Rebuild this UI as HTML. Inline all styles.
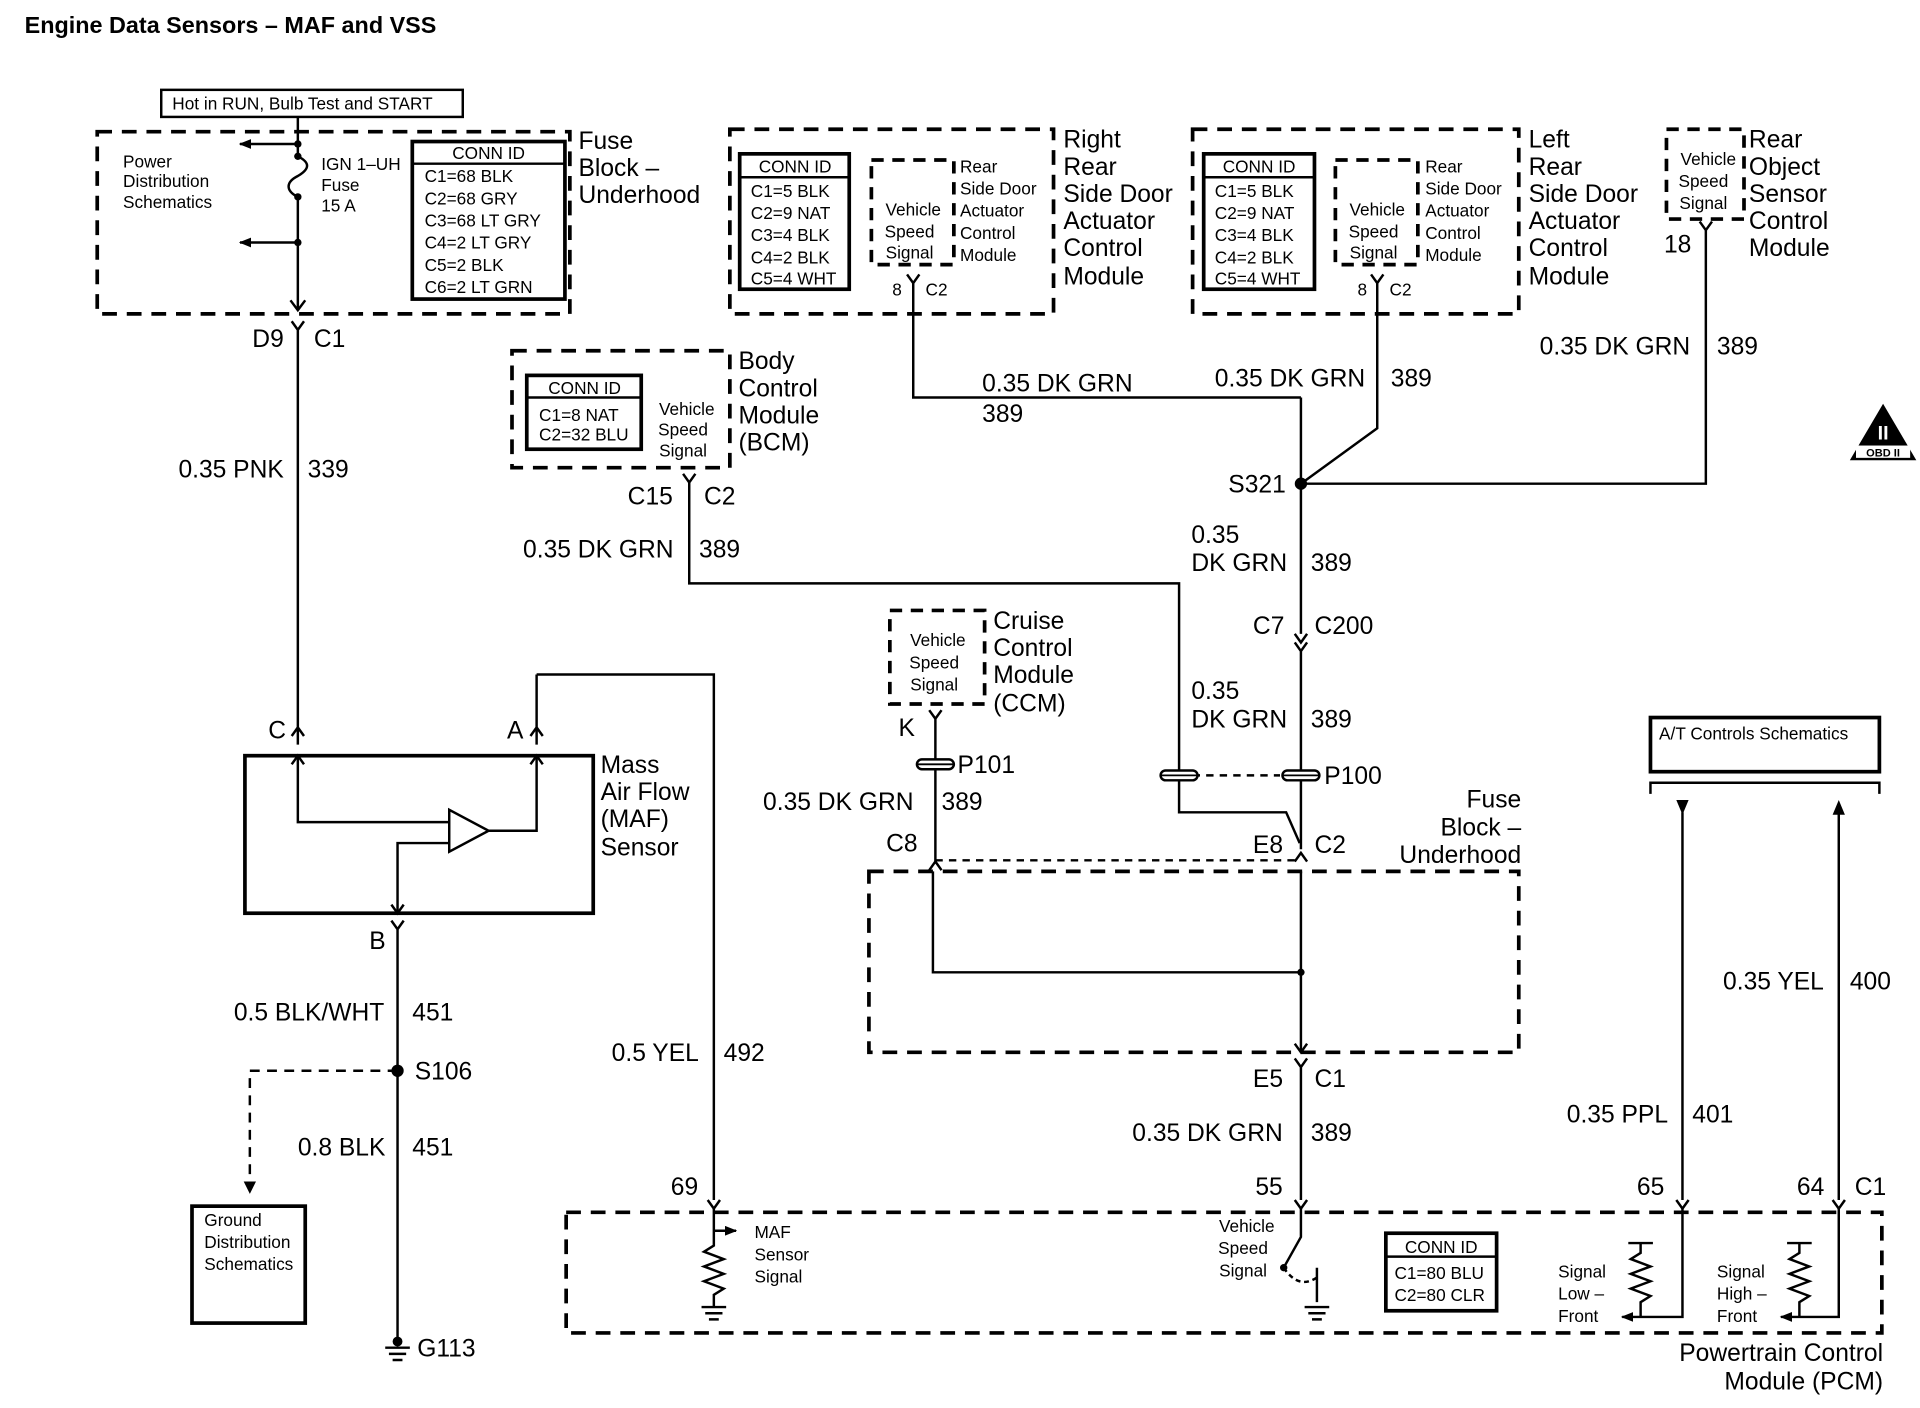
<!DOCTYPE html>
<html><head><meta charset="utf-8"><style>
html,body{margin:0;padding:0;background:#fff}
svg{display:block}
text{font-family:"Liberation Sans",Arial,sans-serif;fill:#000}
.t{font-size:20px}.s{font-size:14px}.m{font-size:15px}
</style></head><body>
<svg width="1920" height="1408" viewBox="0 0 1560 1144" xmlns="http://www.w3.org/2000/svg">
<defs>
<marker id="ah" markerWidth="10" markerHeight="8" refX="9" refY="4" orient="auto" markerUnits="userSpaceOnUse"><path d="M0,0L10,4L0,8z" fill="#000"/></marker>
</defs>
<g fill="none" stroke="#000" stroke-width="2">
<rect x="131" y="73" width="245" height="22"/>
<rect x="79" y="107" width="384" height="148" stroke-dasharray="12,8" stroke-width="3"/>
<path d="M242 95V127M242 160V252"/>
<path d="M242 127c10 5 10 10 0 16c-10 5-10 12 0 17"/>
<path d="M242 117H195" marker-end="url(#ah)"/>
<path d="M242 197H195" marker-end="url(#ah)"/>
<path d="M236 244l6 8 6-8"/>
<rect x="335" y="115" width="124" height="128" stroke-width="3"/>
<path d="M335 133H459"/>
<path d="M237 261l5 7 5-7M242 268V605M237 598l5-7 5 7"/>
<rect x="199" y="614" width="283" height="128" stroke-width="3"/>
<path d="M242 614V668H365M365 658V692L397 675Z M397 675H436V614M436 548V605M431 598l5-7 5 7M436 548H580V975M365 685H323V742"/>
<path d="M237 621l5-7 5 7M431 621l5-7 5 7M318 735l5 7 5-7"/>
<path d="M318 748l5 7 5-7M323 755V1090"/>
<path d="M323 870H203V960" stroke-dasharray="8,6"/>
<rect x="156" y="980" width="92" height="95" stroke-width="3"/>
<path d="M313 1095H333M316 1100H330M319 1105H327"/>
<rect x="416" y="285" width="177" height="95" stroke-dasharray="12,8" stroke-width="3"/>
<rect x="428" y="305" width="93" height="60" stroke-width="3"/>
<path d="M428 323H521"/>
<path d="M555 385l5 7 5-7M560 392V474H958V660H1045L1056 685"/>
<rect x="593" y="105" width="263" height="150" stroke-dasharray="12,8" stroke-width="3"/>
<rect x="601" y="125" width="89" height="110" stroke-width="3"/>
<path d="M601 144H690"/>
<rect x="708" y="130" width="67" height="85" stroke-dasharray="10,7" stroke-width="3"/>
<path d="M737 223l5 7 5-7M742 230V323H1057"/>
<rect x="969" y="105" width="265" height="150" stroke-dasharray="12,8" stroke-width="3"/>
<rect x="978" y="125" width="90" height="110" stroke-width="3"/>
<path d="M978 144H1068"/>
<rect x="1085" y="130" width="67" height="85" stroke-dasharray="10,7" stroke-width="3"/>
<path d="M1114 223l5 7 5-7M1119 230V348L1057 393"/>
<rect x="1354" y="105" width="63" height="73" stroke-dasharray="10,7" stroke-width="3"/>
<path d="M1381 180l5 7 5-7M1386 187V393H1057"/>
<path d="M1057 323V515M1052 515l5 7 5-7M1052 522l5 7 5-7M1057 529V690"/>
<path d="M1052 700l5-7 5 7M1052 848l5 7 5-7M1052 860l5 7 5-7M1057 867V975"/>
<path d="M958 630H1040" stroke-dasharray="6,5"/>
<rect x="723" y="496" width="77" height="76" stroke-dasharray="10,7" stroke-width="3"/>
<path d="M755 577l5 7 5-7M760 584V700M755 707l5-7 5 7"/>
<path d="M760 699H1056" stroke-dasharray="6,5"/>
<rect x="706" y="708" width="528" height="147" stroke-dasharray="12,8" stroke-width="3"/>
<path d="M758 708V790H1057M1057 708V855"/>
<rect x="1341" y="583" width="186" height="44" stroke-width="3"/>
<path d="M1341 645V636H1527V645"/>
<path d="M1367 660V975M1494 660V975"/>
<rect x="460" y="985" width="1069" height="98" stroke-dasharray="12,8" stroke-width="3"/>
<path d="M575 975l5 7 5-7M1052 975l5 7 5-7M1362 975l5 7 5-7M1489 975l5 7 5-7"/>
<path d="M580 982V1012l-8 5 16 6-16 6 16 6-16 6 16 6-8 5V1062"/>
<path d="M580 1000H598" marker-end="url(#ah)"/>
<path d="M570 1062H590M573 1067H587M576 1072H584"/>
<path d="M1057 982V1005L1043 1030"/>
<path d="M1043 1030Q1055 1048 1070 1038" stroke-dasharray="4,3"/>
<path d="M1070 1030V1058M1060 1062H1080M1063 1067H1077M1066 1072H1074"/>
<rect x="1126" y="1002" width="90" height="63" stroke-width="3"/>
<path d="M1126 1021H1216"/>
<path d="M1333 1010V1018l-8 5 16 6-16 6 16 6-16 6 16 6-8 5V1070"/>
<path d="M1323 1010H1343"/>
<path d="M1367 982V1070H1318" marker-end="url(#ah)"/>
<path d="M1462 1010V1018l-8 5 16 6-16 6 16 6-16 6 16 6-8 5V1070"/>
<path d="M1452 1010H1472"/>
<path d="M1494 982V1070H1447" marker-end="url(#ah)"/>
</g>
<g fill="#000">
<circle cx="242" cy="117" r="3"/><circle cx="242" cy="127" r="3"/><circle cx="242" cy="160" r="3"/><circle cx="242" cy="197" r="3"/>
<circle cx="323" cy="870" r="5"/><circle cx="1057" cy="393" r="5"/><circle cx="1057" cy="790" r="3"/>
<circle cx="1043" cy="1030" r="3"/><circle cx="323" cy="1090" r="4"/>
<path d="M1362 650h10l-5 12z M1489 662h10l-5-12z M198 960h10l-5 10z"/>
<path d="M1530 328L1503 374H1557Z"/>
</g>
<g fill="#fff" stroke="#000" stroke-width="2">
<rect x="943" y="626" width="30" height="8" rx="4"/><rect x="1042" y="626" width="30" height="8" rx="4"/>
<rect x="745" y="617" width="30" height="8" rx="4"/>
</g>
<g stroke="#000" stroke-width="1.5"><path d="M943 630H973M1042 630H1072M745 621H775"/></g>
<rect x="1508" y="362" width="44" height="10" fill="#fff"/>
<text x="1530" y="371" font-size="9" text-anchor="middle" font-weight="bold">OBD II</text>
<text x="1530" y="357" font-size="16" text-anchor="middle" font-weight="bold" style="fill:#fff">II</text>

<text x="20" y="27" font-size="19" font-weight="bold">Engine Data Sensors – MAF and VSS</text>
<text x="140" y="89" class="s">Hot in RUN, Bulb Test and START</text>
<g class="s">
<text x="100" y="136">Power</text><text x="100" y="152">Distribution</text><text x="100" y="169">Schematics</text>
<text x="261" y="138">IGN 1–UH</text><text x="261" y="155">Fuse</text><text x="261" y="172">15 A</text>
<text x="397" y="129" text-anchor="middle">CONN ID</text>
<text x="345" y="148">C1=68 BLK</text><text x="345" y="166">C2=68 GRY</text><text x="345" y="184">C3=68 LT GRY</text>
<text x="345" y="202">C4=2 LT GRY</text><text x="345" y="220">C5=2 BLK</text><text x="345" y="238">C6=2 LT GRN</text>
<text x="166" y="996">Ground</text><text x="166" y="1014">Distribution</text><text x="166" y="1032">Schematics</text>
<text x="475" y="320" text-anchor="middle">CONN ID</text>
<text x="438" y="342">C1=8 NAT</text><text x="438" y="358">C2=32 BLU</text>
<text x="558" y="337" text-anchor="middle">Vehicle</text><text x="555" y="354" text-anchor="middle">Speed</text><text x="555" y="371" text-anchor="middle">Signal</text>
<text x="646" y="140" text-anchor="middle">CONN ID</text>
<text x="610" y="160">C1=5 BLK</text><text x="610" y="178">C2=9 NAT</text><text x="610" y="196">C3=4 BLK</text><text x="610" y="214">C4=2 BLK</text><text x="610" y="231">C5=4 WHT</text>
<text x="742" y="175" text-anchor="middle">Vehicle</text><text x="739" y="193" text-anchor="middle">Speed</text><text x="739" y="210" text-anchor="middle">Signal</text>
<text x="780" y="140">Rear</text><text x="780" y="158">Side Door</text><text x="780" y="176">Actuator</text><text x="780" y="194">Control</text><text x="780" y="212">Module</text>
<text x="725" y="240">8</text><text x="752" y="240">C2</text>
<text x="1023" y="140" text-anchor="middle">CONN ID</text>
<text x="987" y="160">C1=5 BLK</text><text x="987" y="178">C2=9 NAT</text><text x="987" y="196">C3=4 BLK</text><text x="987" y="214">C4=2 BLK</text><text x="987" y="231">C5=4 WHT</text>
<text x="1119" y="175" text-anchor="middle">Vehicle</text><text x="1116" y="193" text-anchor="middle">Speed</text><text x="1116" y="210" text-anchor="middle">Signal</text>
<text x="1158" y="140">Rear</text><text x="1158" y="158">Side Door</text><text x="1158" y="176">Actuator</text><text x="1158" y="194">Control</text><text x="1158" y="212">Module</text>
<text x="1103" y="240">8</text><text x="1129" y="240">C2</text>
<text x="1388" y="134" text-anchor="middle">Vehicle</text><text x="1384" y="152" text-anchor="middle">Speed</text><text x="1384" y="170" text-anchor="middle">Signal</text>
<text x="762" y="525" text-anchor="middle">Vehicle</text><text x="759" y="543" text-anchor="middle">Speed</text><text x="759" y="561" text-anchor="middle">Signal</text>
<text x="1348" y="601">A/T Controls Schematics</text>
<text x="613" y="1006">MAF</text><text x="613" y="1024">Sensor</text><text x="613" y="1042">Signal</text>
<text x="1013" y="1001" text-anchor="middle">Vehicle</text><text x="1010" y="1019" text-anchor="middle">Speed</text><text x="1010" y="1037" text-anchor="middle">Signal</text>
<text x="1171" y="1018" text-anchor="middle">CONN ID</text>
<text x="1133" y="1039">C1=80 BLU</text><text x="1133" y="1057">C2=80 CLR</text>
<text x="1266" y="1038">Signal</text><text x="1266" y="1056">Low –</text><text x="1266" y="1074">Front</text>
<text x="1395" y="1038">Signal</text><text x="1395" y="1056">High –</text><text x="1395" y="1074">Front</text>
</g>
<g class="t">
<text x="470" y="121">Fuse</text><text x="470" y="143">Block –</text><text x="470" y="165">Underhood</text>
<text x="205" y="282">D9</text><text x="255" y="282">C1</text>
<text x="145" y="388">0.35 PNK</text><text x="250" y="388">339</text>
<text x="218" y="600">C</text><text x="412" y="600">A</text>
<text x="488" y="628">Mass</text><text x="488" y="650">Air Flow</text><text x="488" y="672">(MAF)</text><text x="488" y="695">Sensor</text>
<text x="300" y="771">B</text>
<text x="190" y="829">0.5 BLK/WHT</text><text x="335" y="829">451</text>
<text x="337" y="877">S106</text>
<text x="242" y="939">0.8 BLK</text><text x="335" y="939">451</text>
<text x="339" y="1102">G113</text>
<text x="497" y="862">0.5 YEL</text><text x="588" y="862">492</text>
<text x="545" y="971">69</text>
<text x="600" y="300">Body</text><text x="600" y="322">Control</text><text x="600" y="344">Module</text><text x="600" y="366">(BCM)</text>
<text x="510" y="410">C15</text><text x="572" y="410">C2</text>
<text x="425" y="453">0.35 DK GRN</text><text x="568" y="453">389</text>
<text x="864" y="120">Right</text><text x="864" y="142">Rear</text><text x="864" y="164">Side Door</text><text x="864" y="186">Actuator</text><text x="864" y="208">Control</text><text x="864" y="231">Module</text>
<text x="798" y="318">0.35 DK GRN</text><text x="798" y="343">389</text>
<text x="1242" y="120">Left</text><text x="1242" y="142">Rear</text><text x="1242" y="164">Side Door</text><text x="1242" y="186">Actuator</text><text x="1242" y="208">Control</text><text x="1242" y="231">Module</text>
<text x="987" y="314">0.35 DK GRN</text><text x="1130" y="314">389</text>
<text x="1421" y="120">Rear</text><text x="1421" y="142">Object</text><text x="1421" y="164">Sensor</text><text x="1421" y="186">Control</text><text x="1421" y="208">Module</text>
<text x="1352" y="205">18</text>
<text x="1251" y="288">0.35 DK GRN</text><text x="1395" y="288">389</text>
<text x="998" y="400">S321</text>
<text x="968" y="441">0.35</text><text x="968" y="464">DK GRN</text><text x="1065" y="464">389</text>
<text x="1018" y="515">C7</text><text x="1068" y="515">C200</text>
<text x="968" y="568">0.35</text><text x="968" y="591">DK GRN</text><text x="1065" y="591">389</text>
<text x="1076" y="637">P100</text>
<text x="807" y="511">Cruise</text><text x="807" y="533">Control</text><text x="807" y="555">Module</text><text x="807" y="578">(CCM)</text>
<text x="730" y="598">K</text><text x="778" y="628">P101</text>
<text x="620" y="658">0.35 DK GRN</text><text x="765" y="658">389</text>
<text x="720" y="692">C8</text><text x="1018" y="693">E8</text><text x="1068" y="693">C2</text>
<text x="1236" y="656" text-anchor="end">Fuse</text><text x="1236" y="679" text-anchor="end">Block –</text><text x="1236" y="701" text-anchor="end">Underhood</text>
<text x="1018" y="883">E5</text><text x="1068" y="883">C1</text>
<text x="920" y="927">0.35 DK GRN</text><text x="1065" y="927">389</text>
<text x="1020" y="971">55</text>
<text x="1400" y="804">0.35 YEL</text><text x="1503" y="804">400</text>
<text x="1273" y="912">0.35 PPL</text><text x="1375" y="912">401</text>
<text x="1330" y="971">65</text><text x="1460" y="971">64</text><text x="1507" y="971">C1</text>
<text x="1530" y="1106" text-anchor="end">Powertrain Control</text><text x="1530" y="1129" text-anchor="end">Module (PCM)</text>
</g>
</svg>
</body></html>
